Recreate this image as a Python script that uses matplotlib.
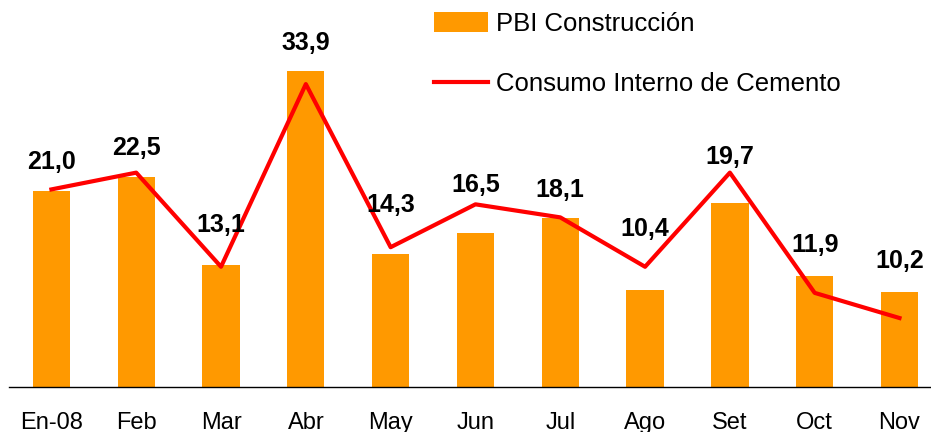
import matplotlib.pyplot as plt
import numpy as np

plt.rcParams['font.family'] = ['Liberation Sans', 'DejaVu Sans']

meses = ['En-08', 'Feb', 'Mar', 'Abr', 'May', 'Jun', 'Jul', 'Ago', 'Set', 'Oct', 'Nov']
pbi_construccion = [21.0, 22.5, 13.1, 33.9, 14.3, 16.5, 18.1, 10.4, 19.7, 11.9, 10.2]
consumo_cemento = [21.2, 23.0, 12.9, 32.5, 15.0, 19.6, 18.2, 12.9, 23.0, 10.1, 7.4]
etiquetas = ['21,0', '22,5', '13,1', '33,9', '14,3', '16,5', '18,1', '10,4', '19,7', '11,9', '10,2']

# separacion (pt) de cada etiqueta sobre la marca mas alta
sep = [15, 13, 24, 15, 25, 9, 15, 22, 6, 17, 17]

x = np.arange(len(meses))

fig = plt.figure(figsize=(9.31, 4.32), dpi=100)
ax = fig.add_axes([9 / 931, 45 / 432, 922 / 931, 387 / 432])

b = ax.bar(x, pbi_construccion, width=0.44, color='#FF9900', label='PBI Construcción', zorder=2)
l, = ax.plot(x, consumo_cemento, color='#FF0000', lw=3, label='Consumo Interno de Cemento', zorder=3)

for i in range(len(meses)):
    top = max(pbi_construccion[i], consumo_cemento[i])
    ax.annotate(etiquetas[i], (x[i], top), xytext=(0, sep[i]), textcoords='offset points',
                ha='center', va='baseline', fontsize=18, fontweight='bold')

ax.set_xlim(-0.5, (931 - 51.5) / 84.8)
ax.set_ylim(0, 387 / 9.32)
ax.set_xticks(x)
ax.set_xticklabels(meses, fontsize=17)
ax.tick_params(axis='x', length=0, pad=18)
ax.set_yticks([])
for s in ['left', 'top', 'right']:
    ax.spines[s].set_visible(False)
ax.spines['bottom'].set_linewidth(1)

ax.legend([b, l], ['PBI Construcción', 'Consumo Interno de Cemento'],
          loc='upper left', bbox_to_anchor=(434 / 931, 1 - 12 / 432), bbox_transform=fig.transFigure,
          frameon=False, fontsize=18.5, handlelength=2.1, handleheight=0.8, handletextpad=0.3,
          labelspacing=1.4, borderpad=0, borderaxespad=0)

fig.savefig('out.png', dpi=100)
